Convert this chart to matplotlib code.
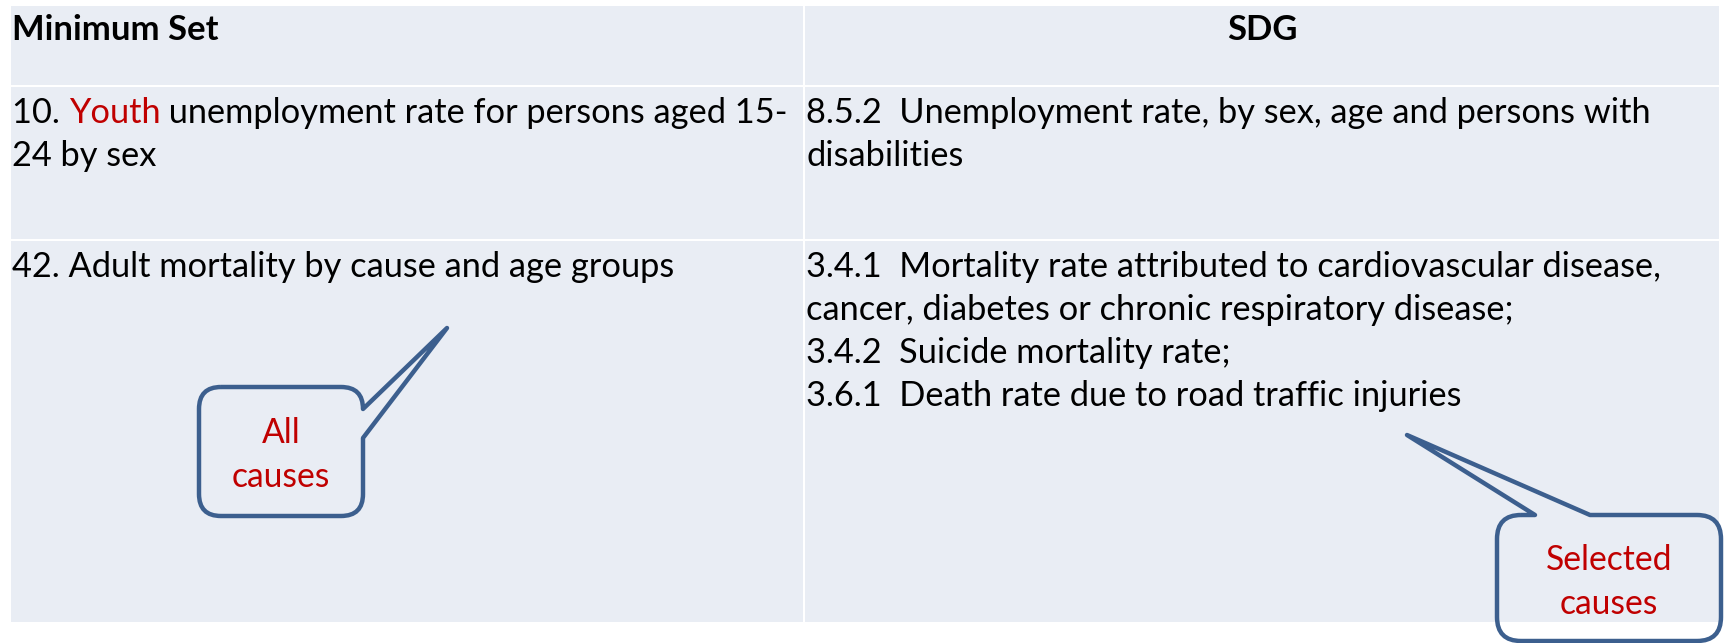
import matplotlib
matplotlib.use('Agg')
import matplotlib.pyplot as plt
from matplotlib.path import Path
from matplotlib.patches import PathPatch, Rectangle

# canvas in pixels
W, H = 1725, 643
BG = '#E9EDF4'
EDGE = '#3C5F8E'
RED = '#C00000'
FONT = ['Lato', 'DejaVu Sans']

# table content
headers = ['Minimum Set', 'SDG']
minimum_set = [
    ['10. Youth unemployment rate for persons aged 15-', '24 by sex'],
    ['42. Adult mortality by cause and age groups'],
]
sdg = [
    ['8.5.2  Unemployment rate, by sex, age and persons with', 'disabilities'],
    ['3.4.1  Mortality rate attributed to cardiovascular disease,',
     'cancer, diabetes or chronic respiratory disease;',
     '3.4.2  Suicide mortality rate;',
     '3.6.1  Death rate due to road traffic injuries'],
]
highlight = 'Youth'
callout_labels = ['All\ncauses', 'Selected\ncauses']

# layout
col_edges = [10, 804, 1720]
row_edges = [5, 86, 240, 623]
line_h = 43

fig = plt.figure(figsize=(W / 100, H / 100), dpi=100)
ax = fig.add_axes([0, 0, 1, 1])
ax.set_xlim(0, W)
ax.set_ylim(H, 0)
ax.axis('off')
renderer = fig.canvas.get_renderer()


def fit_size(s, target, weight='normal'):
    t = ax.text(0, 0, s, fontsize=20, family=FONT, weight=weight)
    w = t.get_window_extent(renderer).width
    t.remove()
    return 20 * target / w


body_fs = fit_size('10. Youth unemployment rate for persons aged 15-', 778)
head_fs = fit_size('Minimum Set', 206, 'bold')
call_fs = fit_size('Selected', 127)

# cells
for r in range(3):
    for c in range(2):
        x0, x1 = col_edges[c], col_edges[c + 1]
        y0, y1 = row_edges[r], row_edges[r + 1]
        ax.add_patch(Rectangle((x0 + 1, y0 + 1), x1 - x0 - 2, y1 - y0 - 2,
                               facecolor=BG, edgecolor='none'))

# header
ax.text(12, 40, headers[0], fontsize=head_fs, family=FONT, weight='bold',
        va='baseline', ha='left')
ax.text((col_edges[1] + col_edges[2]) / 2, 40, headers[1], fontsize=head_fs,
        family=FONT, weight='bold', va='baseline', ha='center')


def draw_line(x, y, s):
    # black text with the highlight word in red
    if highlight in s:
        a, b = s.split(highlight, 1)
        parts = [(a, 'black'), (highlight, RED), (b, 'black')]
    else:
        parts = [(s, 'black')]
    for txt, col in parts:
        if not txt:
            continue
        t = ax.text(x, y, txt, fontsize=body_fs, family=FONT, color=col,
                    va='baseline', ha='left')
        x += t.get_window_extent(renderer).width


row_baseline = [123, 277]
for i in range(2):
    for j, s in enumerate(minimum_set[i]):
        draw_line(12, row_baseline[i] + j * line_h, s)
    for j, s in enumerate(sdg[i]):
        draw_line(806, row_baseline[i] + j * line_h, s)


def callout(box, r, edge, a, b, tip):
    x0, y0, x1, y1 = box
    verts = [(x0 + r, y0)]
    codes = [Path.MOVETO]
    if edge == 'top':
        verts += [(a, y0), tip, (b, y0)]
        codes += [Path.LINETO] * 3
    verts += [(x1 - r, y0), (x1, y0), (x1, y0 + r)]
    codes += [Path.LINETO, Path.CURVE3, Path.CURVE3]
    if edge == 'right':
        verts += [(x1, a), tip, (x1, b)]
        codes += [Path.LINETO] * 3
    verts += [(x1, y1 - r), (x1, y1), (x1 - r, y1),
              (x0 + r, y1), (x0, y1), (x0, y1 - r),
              (x0, y0 + r), (x0, y0), (x0 + r, y0)]
    codes += [Path.LINETO, Path.CURVE3, Path.CURVE3] * 3
    ax.add_patch(PathPatch(Path(verts, codes), facecolor='none',
                           edgecolor=EDGE, lw=3.2, joinstyle='round',
                           clip_on=False))


callout((199, 387, 363, 516), 22, 'right', 409, 438, (447, 328))
callout((1497, 515, 1721, 641), 24, 'top', 1535, 1590, (1407, 435))

for (cx, cy), lab in zip([(281, 455), (1609, 582)], callout_labels):
    for k, s in enumerate(lab.split('\n')):
        ax.text(cx, cy + (k - 0.5) * 44, s, fontsize=call_fs, family=FONT,
                color=RED, ha='center', va='center')

fig.savefig('out.png', dpi=100, facecolor='white')
